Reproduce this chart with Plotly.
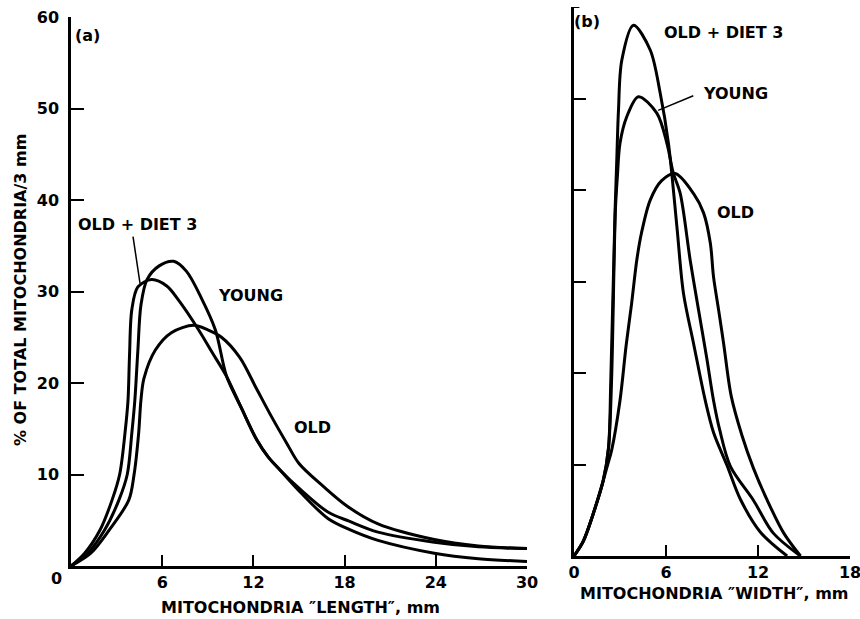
import plotly.graph_objects as go

# ---- Panel (a): distribution of mitochondria "length" ----
len_x_diet = [0, 0.9, 1.9, 2.7, 3.2, 3.55, 3.75, 3.85, 4.0, 4.4, 5.3, 6.3, 7.1, 8.4, 9.3, 10.24,
              11.23, 12.22, 12.98, 13.75, 15.07, 16.9, 18.3, 20.2, 23.9, 26.8, 30]
len_y_diet = [0, 1.4, 3.9, 7.2, 10.0, 14.5, 18.1, 23.0, 28.0, 30.5, 31.3, 30.6, 29.0, 25.8, 23.3, 20.7,
              17.2, 13.8, 11.9, 10.5, 8.1, 5.2, 4.0, 2.8, 1.4, 0.8, 0.5]

len_x_young = [0, 1.1, 2.2, 3.15, 3.7, 4.0, 4.2, 4.4, 4.6, 5.0, 5.8, 6.75, 7.6, 8.6, 9.5, 10.24,
               11.23, 12.22, 12.98, 13.75, 15.07, 16.9, 18.3, 20.2, 23.9, 26.8, 30]
len_y_young = [0, 1.4, 3.9, 7.2, 10.0, 14.5, 18.1, 23.6, 28.5, 31.3, 32.8, 33.3, 32.2, 29.2, 25.8, 20.7,
               17.2, 13.8, 11.9, 10.5, 8.4, 5.9, 4.9, 3.7, 2.6, 2.1, 1.9]

len_x_old = [0, 1.3, 2.5, 3.8, 4.15, 4.45, 4.6, 4.8, 5.55, 6.6, 8.07, 9.0, 9.9, 11.1, 12.2, 13.2,
             14.2, 15.0, 16.6, 18.2, 20.2, 23.9, 26.8, 30]
len_y_old = [0, 1.4, 3.9, 7.2, 10.0, 14.5, 18.1, 20.5, 23.6, 25.5, 26.3, 25.8, 25.0, 22.8, 19.4, 16.3,
             13.4, 11.2, 8.7, 6.5, 4.6, 2.9, 2.2, 1.9]

# ---- Panel (b): distribution of mitochondria "width" ----
wid_x_diet = [0, 0.6, 1.25, 1.9, 2.25, 2.4, 2.68, 2.79, 2.9, 3.12, 3.88, 4.97, 5.62, 6.16, 6.71,
              7.14, 7.8, 8.56, 9.1, 9.98, 10.85, 12.16, 13.9]
wid_y_diet = [0, 1.6, 4.6, 8.2, 11.8, 19.2, 37.8, 43.3, 48.7, 54.2, 58.0, 55.3, 50.6, 45.1, 36.0,
              28.7, 23.2, 17.0, 13.5, 9.9, 6.2, 2.6, 0]

wid_x_young = [0, 0.6, 1.25, 1.9, 2.25, 2.45, 2.7, 2.83, 3.0, 3.44, 4.2, 5.4, 6.06, 6.47, 6.93,
               7.58, 8.12, 8.67, 9.1, 9.5, 10.2, 11.7, 13.0, 14.77]
wid_y_young = [0, 1.6, 4.6, 8.2, 11.8, 19.2, 37.8, 41.5, 45.1, 48.0, 50.2, 48.4, 45.1, 41.9, 39.6,
               32.3, 26.9, 21.5, 17.0, 13.8, 9.8, 6.1, 2.5, 0]

wid_x_old = [0, 0.6, 1.25, 1.9, 2.2, 2.46, 3.0, 3.4, 3.75, 4.1, 4.4, 4.97, 5.7, 6.6, 7.8, 8.45,
             8.89, 9.1, 9.43, 9.76, 10.25, 10.95, 11.7, 12.6, 13.68, 14.77]
wid_y_old = [0, 1.6, 4.6, 8.2, 10.0, 11.6, 17.0, 23.0, 27.5, 32.4, 35.3, 38.9, 41.0, 41.8, 39.6, 37.5,
             34.2, 30.5, 26.9, 23.2, 17.5, 13.2, 9.6, 6.1, 2.5, 0]

length_ticks = [0, 6, 12, 18, 24, 30]
width_ticks = [0, 6, 12, 18]
pct_ticks = [10, 20, 30, 40, 50, 60]

W, H = 860, 619
FONT = dict(family="DejaVu Sans", size=16, color="black", weight="bold")
LINE = dict(color="black", width=3, shape="spline", smoothing=0.9)

fig = go.Figure()
for xs, ys in [(len_x_diet, len_y_diet), (len_x_young, len_y_young), (len_x_old, len_y_old)]:
    fig.add_trace(go.Scatter(x=xs, y=ys, mode="lines", line=LINE, xaxis="x", yaxis="y",
                             showlegend=False, hoverinfo="skip"))
for xs, ys in [(wid_x_diet, wid_y_diet), (wid_x_young, wid_y_young), (wid_x_old, wid_y_old)]:
    fig.add_trace(go.Scatter(x=xs, y=ys, mode="lines", line=LINE, xaxis="x2", yaxis="y2",
                             showlegend=False, hoverinfo="skip"))


def px_x(p):
    return p / W


def px_y(p):
    return (H - p) / H


axis_common = dict(showline=True, linecolor="black", linewidth=2.5, showgrid=False, zeroline=False,
                   automargin=False, ticks="inside", tickcolor="black", tickwidth=2, tickfont=FONT,
                   ticklabeloverflow="allow")

fig.update_layout(
    template="none",
    width=W, height=H, margin=dict(l=0, r=0, t=0, b=0, autoexpand=False),
    paper_bgcolor="white", plot_bgcolor="white", font=FONT, showlegend=False,
    xaxis=dict(axis_common, domain=[px_x(71), px_x(527)], range=[0, 30], anchor="y",
               tickvals=length_ticks, ticktext=[""] + [str(v) for v in length_ticks[1:]], ticklen=11),
    yaxis=dict(axis_common, domain=[px_y(566), px_y(17)], range=[0, 60], anchor="x",
               tickvals=pct_ticks, ticklen=13, ticklabelstandoff=6),
    xaxis2=dict(axis_common, domain=[px_x(574), px_x(850)], range=[0, 18], anchor="y2",
                tickvals=width_ticks, ticklen=11),
    yaxis2=dict(axis_common, domain=[px_y(556), px_y(7)], range=[0, 60], anchor="x2",
                tickvals=pct_ticks[:-1], showticklabels=False, ticklen=12),
)

ann = [
    # panel (a)
    dict(text="(a)", x=1.1, y=58.0, xref="x", yref="y"),
    dict(text="OLD + DIET 3", x=4.4, y=37.3, xref="x", yref="y"),
    dict(text="YOUNG", x=11.8, y=29.6, xref="x", yref="y"),
    dict(text="OLD", x=15.9, y=15.1, xref="x", yref="y"),
    dict(text="0", x=px_x(57), y=px_y(578), xref="paper", yref="paper"),
    dict(text="MITOCHONDRIA \u2033LENGTH\u2033, mm", x=px_x(300), y=px_y(607), xref="paper", yref="paper"),
    dict(text="% OF TOTAL MITOCHONDRIA/3 mm", x=px_x(20), y=px_y(290), xref="paper", yref="paper",
         textangle=-90),
    # panel (b)
    dict(text="(b)", x=0.85, y=58.4, xref="x2", yref="y2"),
    dict(text="OLD + DIET 3", x=9.74, y=57.2, xref="x2", yref="y2"),
    dict(text="YOUNG", x=10.5, y=50.6, xref="x2", yref="y2"),
    dict(text="OLD", x=10.55, y=37.5, xref="x2", yref="y2"),
    dict(text="MITOCHONDRIA \u2033WIDTH\u2033, mm", x=px_x(714), y=px_y(593), xref="paper", yref="paper"),
]
for a in ann:
    a.update(showarrow=False, font=FONT, xanchor="center", yanchor="middle")
fig.update_layout(annotations=ann)

# leader lines from labels to their curves, plus the short bracket at the top of panel (b)
fig.add_shape(type="line", x0=4.08, y0=36.0, x1=4.54, y1=30.9, xref="x", yref="y",
              line=dict(color="black", width=1.5))
fig.add_shape(type="line", x0=5.49, y0=48.7, x1=7.78, y1=50.3, xref="x2", yref="y2",
              line=dict(color="black", width=1.5))
fig.add_shape(type="line", x0=0, y0=60, x1=0.35, y1=60, xref="x2", yref="y2",
              line=dict(color="black", width=2))

fig.write_html("out.html")
